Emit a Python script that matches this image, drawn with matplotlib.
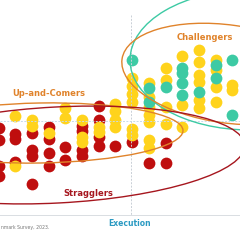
import matplotlib
matplotlib.use("Agg")
import matplotlib.pyplot as plt
from matplotlib.patches import Ellipse

# ---- data (x = execution score column, y = vision score) ----
red_x = [0, 0, 0, 0, 1, 1, 1, 2, 2, 2, 2, 3, 3, 3, 3, 4, 4, 5, 5, 5, 5,
         6, 6, 6, 6, 7, 8, 9, 10, 10]
red_y = [87, 75, 49, 39, 81, 76, 53, 82, 65, 59, 31, 88, 76, 62, 49, 68, 55,
         89, 84, 65, 59, 109, 95, 78, 69, 69, 73, 52, 72, 52]

yellow_x = [1, 1, 2, 2, 3, 4, 4, 5, 5, 5, 6, 6, 7, 7, 7, 7,
            8, 8, 8, 8, 8, 8, 9, 9, 9, 9, 9, 9, 9, 10, 10, 10, 10,
            11, 11, 11, 12, 12, 12, 12, 12, 12, 13, 13, 13, 13, 14, 14]
yellow_y = [99, 49, 95, 89, 82, 107, 97, 95, 78, 73, 88, 83, 111, 104, 95, 88,
            137, 129, 121, 113, 86, 80, 132, 118, 108, 100, 93, 75, 67,
            147, 135, 108, 91, 159, 110, 88, 165, 153, 140, 133, 115, 107,
            155, 145, 128, 113, 130, 125]

teal_x = [8, 9, 9, 10, 11, 11, 11, 11, 12, 13, 13, 14, 14]
teal_y = [155, 127, 113, 128, 147, 142, 132, 120, 123, 150, 137, 155, 100]

group_labels = ["Challengers", "Up-and-Comers", "Stragglers"]
axis_label = "Execution"
source_text = "nmark Survey, 2023."

RED = "#BF0E0E"
YELLOW = "#FFD31C"
TEAL = "#3DCAA4"
ORANGE = "#E0832B"
DARKRED = "#A6161E"
BLUE = "#2B9AC2"

fig = plt.figure(figsize=(2.4, 2.4), dpi=100)
ax = fig.add_axes([0, 0, 1, 1])
ax.set_xlim(0.0898, 14.461)
ax.set_ylim(-25, 215)
ax.axis("off")

S = 72
ax.scatter(red_x, red_y, s=S, color=RED, linewidths=0, zorder=3)
ax.scatter(yellow_x, yellow_y, s=S, color=YELLOW, linewidths=0, zorder=4)
ax.scatter(teal_x, teal_y, s=S, color=TEAL, linewidths=0, zorder=5)

# overlay in pixel-like coordinates for annotation shapes
ov = fig.add_axes([0, 0, 1, 1], facecolor="none")
ov.set_xlim(0, 240)
ov.set_ylim(240, 0)
ov.axis("off")

ov.plot([131, 131], [15, 215], color="#c9cfd6", lw=0.7, ls=(0, (2, 1.5)), zorder=1)
ov.plot([0, 240], [121, 121], color="#c9dbe8", lw=0.7, ls=(0, (2, 1.5)), zorder=1)
ov.plot([0, 240], [215, 215], color="#d9dde2", lw=0.7, zorder=1)

ov.add_patch(Ellipse((250, 60), 240, 140, fill=False, ec=TEAL, lw=1.0, zorder=6))
ov.add_patch(Ellipse((228, 74), 214, 98, angle=8, fill=False, ec=ORANGE, lw=1.0, zorder=6))
ov.add_patch(Ellipse((40, 133), 286, 60, angle=-1, fill=False, ec=ORANGE, lw=1.0, zorder=6))
ov.add_patch(Ellipse((57, 155), 376, 96, angle=-3, fill=False, ec=DARKRED, lw=1.0, zorder=6))

ov.text(205, 38, group_labels[0], color=ORANGE, fontsize=6, fontweight="bold",
        ha="center", va="center", zorder=7)
ov.text(49, 93, group_labels[1], color=ORANGE, fontsize=6, fontweight="bold",
        ha="center", va="center", zorder=7)
ov.text(88, 193, group_labels[2], color=DARKRED, fontsize=6, fontweight="bold",
        ha="center", va="center", zorder=7)
ov.text(130, 224, axis_label, color=BLUE, fontsize=5.5, fontweight="bold",
        ha="center", va="center", zorder=7)
ov.text(1, 228, source_text, color="#777777", fontsize=3.3,
        ha="left", va="center", zorder=7)

fig.savefig("out.png", dpi=100, facecolor="white")
